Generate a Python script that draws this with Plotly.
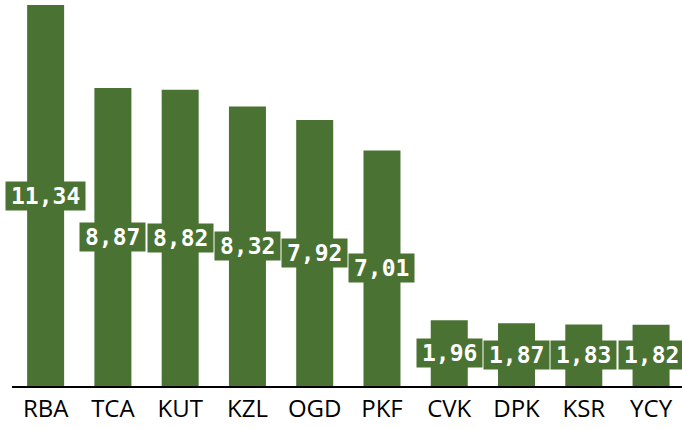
import plotly.graph_objects as go

categories = ["RBA", "TCA", "KUT", "KZL", "OGD", "PKF", "CVK", "DPK", "KSR", "YCY"]
values = [11.34, 8.87, 8.82, 8.32, 7.92, 7.01, 1.96, 1.87, 1.83, 1.82]
labels = [f"{v:.2f}".replace(".", ",") for v in values]

GREEN = "#4a7233"

fig = go.Figure()
fig.add_trace(go.Bar(x=categories, y=values, marker=dict(color=GREEN, line=dict(width=0)),
                     hoverinfo="skip"))

for c, v, t in zip(categories, values, labels):
    fig.add_annotation(x=c, y=v / 2, text=f"<b>{t}</b>", showarrow=False,
                       font=dict(family="DejaVu Sans Mono", size=23, color="white"),
                       bgcolor=GREEN, borderpad=0,
                       width=len(t) * 13.85 + 10, height=28)

fig.update_layout(
    width=682, height=429,
    margin=dict(l=12, r=0, t=5, b=43, pad=0, autoexpand=False),
    plot_bgcolor="white", paper_bgcolor="white",
    bargap=0.45, showlegend=False,
    xaxis=dict(showline=True, linecolor="black", linewidth=2, ticks="",
               tickfont=dict(family="Open Sans", size=24, color="black"),
               showgrid=False, zeroline=False, automargin=False,
               range=[-0.5, 9.46]),
    yaxis=dict(visible=False, range=[0, 11.34], showgrid=False, zeroline=False,
               automargin=False),
)

fig.write_html("out.html", config={"displayModeBar": False},
               post_script="document.body.style.margin='0';")
